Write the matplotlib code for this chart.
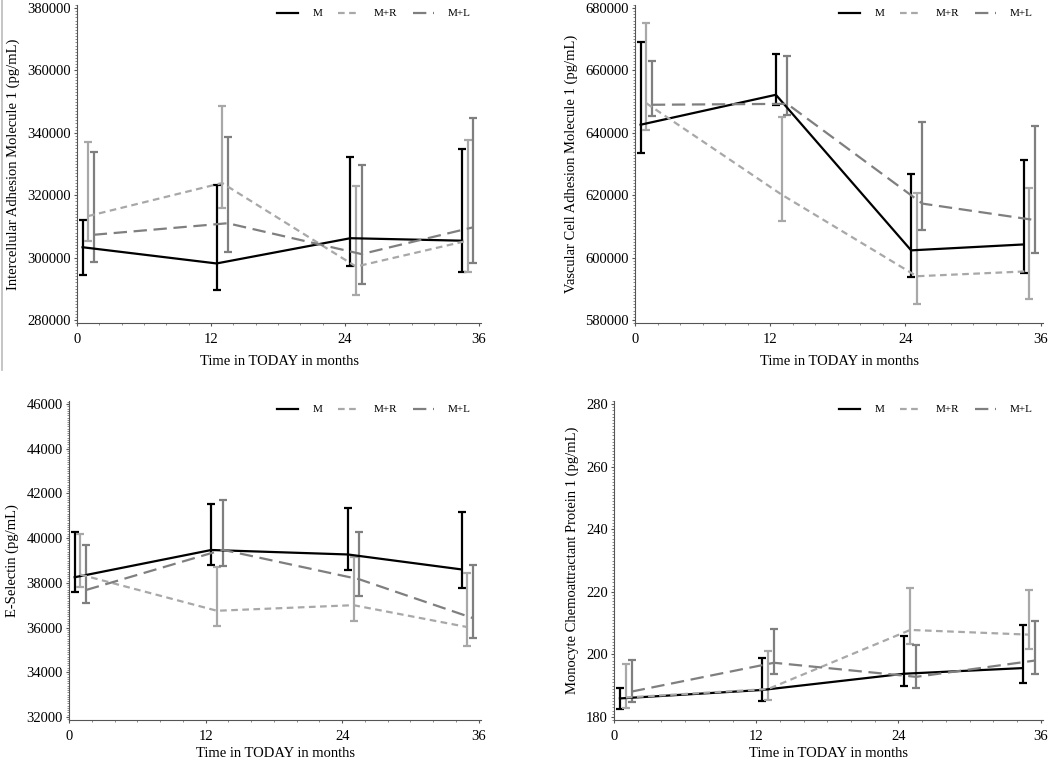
import matplotlib
matplotlib.use("Agg")
import matplotlib.pyplot as plt
from matplotlib.ticker import AutoMinorLocator, MultipleLocator
from matplotlib.lines import Line2D

plt.rcParams['font.family'] = ['Liberation Serif', 'DejaVu Serif']

# Time points (slightly offset per group, as in the original)
x_m = [0.5, 12.5, 24.5, 34.5]
x_mr = [1.0, 13.0, 25.0, 35.0]
x_ml = [1.5, 13.5, 25.5, 35.5]

# Intercellular Adhesion Molecule 1
icam_m = [303300, 298100, 306200, 305400]
icam_m_lo = [294500, 289600, 297400, 295500]
icam_m_hi = [312000, 323400, 332300, 334900]
icam_mr = [313300, 323900, 297100, 305400]
icam_mr_lo = [305400, 316000, 287900, 295400]
icam_mr_hi = [337000, 348600, 322900, 337700]
icam_ml = [307300, 311000, 301100, 309700]
icam_ml_lo = [298600, 301800, 291600, 298100]
icam_ml_hi = [333800, 338700, 329700, 344700]

# Vascular Cell Adhesion Molecule 1
vcam_m = [642600, 652200, 602300, 604200]
vcam_m_lo = [633400, 649000, 593900, 595100]
vcam_m_hi = [669100, 665300, 626800, 631200]
vcam_mr = [649500, 620200, 594000, 595600]
vcam_mr_lo = [640900, 611600, 585100, 586800]
vcam_mr_hi = [675100, 645200, 620700, 622300]
vcam_ml = [649000, 649300, 617300, 612000]
vcam_ml_lo = [645500, 645700, 608800, 601300]
vcam_ml_hi = [663000, 664600, 643400, 642100]

# E-Selectin
esel_m = [38250, 39470, 39270, 38600]
esel_m_lo = [37580, 38820, 38580, 37770]
esel_m_hi = [40290, 41530, 41370, 41160]
esel_mr = [38370, 36750, 37000, 36020]
esel_mr_lo = [37800, 36060, 36300, 35180]
esel_mr_hi = [40180, 38700, 39150, 38450]
esel_ml = [37680, 39480, 38160, 36420]
esel_ml_lo = [37080, 38760, 37430, 35550]
esel_ml_hi = [39680, 41700, 40270, 38780]

# Monocyte Chemoattractant Protein 1
mcp_m = [185.9, 188.6, 193.8, 195.6]
mcp_m_lo = [182.6, 185.2, 189.8, 190.8]
mcp_m_hi = [189.2, 198.8, 205.8, 209.3]
mcp_mr = [186.2, 188.9, 207.8, 206.3]
mcp_mr_lo = [182.7, 185.5, 203.3, 201.6]
mcp_mr_hi = [196.8, 201.2, 221.1, 220.6]
mcp_ml = [188.1, 197.3, 192.8, 198.0]
mcp_ml_lo = [184.7, 193.6, 189.1, 193.8]
mcp_ml_hi = [198.2, 208.2, 203.0, 210.6]

groups = ["M", "M+R", "M+L"]
colors = ["#000000", "#a8a8a8", "#7f7f7f"]
dashes = [None, (3, 2), (6, 3)]


def draw_panel(ax, series, ylim, ystep, ylabel, xpad=7):
    xs = [x_m, x_mr, x_ml]
    for i, (mean, lo, hi) in enumerate(series):
        err = [[m - l for m, l in zip(mean, lo)], [h - m for m, h in zip(mean, hi)]]
        ax.errorbar(xs[i], mean, yerr=err, fmt='none', ecolor=colors[i],
                    elinewidth=1.6, capsize=3, capthick=1.6, zorder=2)
        line, = ax.plot(xs[i], mean, color=colors[i], lw=1.6, label=groups[i], zorder=3)
        if dashes[i] is not None:
            line.set_dashes(dashes[i])
    pad = (ylim[1] - ylim[0]) * 0.01
    ax.set_ylim(ylim[0] - pad, ylim[1] + pad)
    ax.set_xlim(0, 36.2)
    ax.xaxis.set_major_locator(MultipleLocator(12))
    ax.xaxis.set_minor_locator(MultipleLocator(2))
    ax.yaxis.set_major_locator(MultipleLocator(ystep))
    ax.yaxis.set_minor_locator(AutoMinorLocator(20))
    for s in ['top', 'right']:
        ax.spines[s].set_visible(False)
    for s in ['left', 'bottom']:
        ax.spines[s].set_color('#555555')
    ax.tick_params(which='major', length=2.5, pad=2, color='#555555', labelsize=10.5)
    ax.tick_params(axis='x', which='major', pad=4.5)
    ax.tick_params(which='minor', length=1.5, color='#777777', width=0.6)
    ax.set_xlabel("Time in TODAY in months", fontsize=10.5, labelpad=xpad)
    ax.set_ylabel(ylabel, fontsize=10.5, labelpad=5)
    ax.legend(loc='upper right', ncol=3, frameon=False, fontsize=8,
              handlelength=1.9, columnspacing=1.4, handletextpad=1.3,
              bbox_to_anchor=(1.0, 1.02))


fig = plt.figure(figsize=(10.5, 7.61), dpi=100)
W, H = 1050, 761


def add_axes(left, right, top, bottom):
    return fig.add_axes([left / W, 1 - bottom / H, (right - left) / W, (bottom - top) / H])


ax1 = add_axes(77, 481, 5, 323)
ax2 = add_axes(635, 1043, 5, 323)
ax3 = add_axes(69, 481, 401, 720)
ax4 = add_axes(614, 1043, 401, 720)

draw_panel(ax1, [(icam_m, icam_m_lo, icam_m_hi), (icam_mr, icam_mr_lo, icam_mr_hi),
                 (icam_ml, icam_ml_lo, icam_ml_hi)],
           (280000, 380000), 20000, "Intercellular Adhesion Molecule 1 (pg/mL)")
draw_panel(ax2, [(vcam_m, vcam_m_lo, vcam_m_hi), (vcam_mr, vcam_mr_lo, vcam_mr_hi),
                 (vcam_ml, vcam_ml_lo, vcam_ml_hi)],
           (580000, 680000), 20000, "Vascular Cell Adhesion Molecule 1 (pg/mL)")
draw_panel(ax3, [(esel_m, esel_m_lo, esel_m_hi), (esel_mr, esel_mr_lo, esel_mr_hi),
                 (esel_ml, esel_ml_lo, esel_ml_hi)],
           (32000, 46000), 2000, "E-Selectin (pg/mL)", xpad=3)
draw_panel(ax4, [(mcp_m, mcp_m_lo, mcp_m_hi), (mcp_mr, mcp_mr_lo, mcp_mr_hi),
                 (mcp_ml, mcp_ml_lo, mcp_ml_hi)],
           (180, 280), 20, "Monocyte Chemoattractant Protein 1 (pg/mL)", xpad=3)

# thin grey border line on the left of the first panel
fig.add_artist(Line2D([2 / W, 2 / W], [1, 1 - 370 / H], color='#bbbbbb', lw=1.2))

fig.savefig("out.png", dpi=100)
